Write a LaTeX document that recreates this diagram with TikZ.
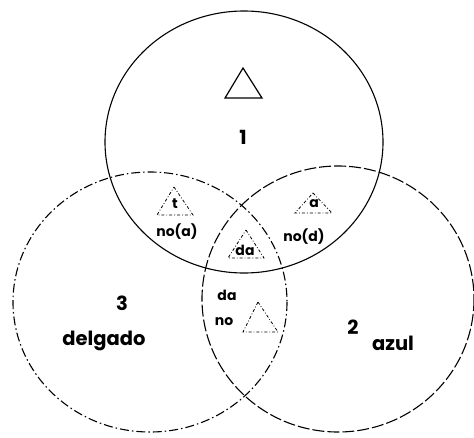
\documentclass[tikz,border=0pt]{standalone}
\usepackage{fontspec}
\setmainfont{Poppins}
\begin{document}
\begin{tikzpicture}[x=1pt,y=-1pt,line width=1.1pt,
    big/.style={font=\fontsize{19.5}{20}\selectfont\bfseries},
    small/.style={font=\fontsize{14}{14}\selectfont\bfseries},
    tri/.style={line width=0.8pt,dash pattern=on 3pt off 2pt on 0.8pt off 2pt}]
    \useasboundingbox (0,0) rectangle (474,437);
    % the three sets
    \draw (244,142) ellipse [x radius=139,y radius=131];
    \draw[dash pattern=on 12pt off 3pt] (338,299) ellipse [x radius=136,y radius=133];
    \draw[dash pattern=on 9pt off 3pt on 1.5pt off 3pt] (150,302) ellipse [x radius=137,y radius=130];
    % set 1
    \draw[line width=1.2pt] (243,68) -- (262,98) -- (225,98) -- cycle;
    \node[big] (uno) at (243,137) {1};
    % set 3
    \node[big] (tres) at (122,303) {3};
    \node[big] (delgado) at (104,341) {delgado};
    % set 2
    \node[big] (dos) at (353,327) {2};
    \node[big] (azul) at (393,343) {azul};
    % 1 and 3
    \draw[tri] (174,187) -- (193,215) -- (157,215) -- cycle;
    \node[small] (t) at (175,204) {t};
    \node[small] (noa) at (177,232) {no(a)};
    % 1 and 2
    \draw[tri] (313,193) -- (332,213) -- (295,213) -- cycle;
    \node[small] (a) at (314,204) {a};
    \node[small] (nod) at (304,237) {no(d)};
    % 1, 2 and 3
    \draw[tri] (246,230) -- (264,258) -- (228,258) -- cycle;
    \node[small] (da) at (245,250) {da};
    % 2 and 3
    \node[small] (dados) at (227,295) {da};
    \node[small] (no) at (224,322) {no};
    \draw[tri] (258,302) -- (278,332) -- (243,332) -- cycle;
\end{tikzpicture}
\end{document}
